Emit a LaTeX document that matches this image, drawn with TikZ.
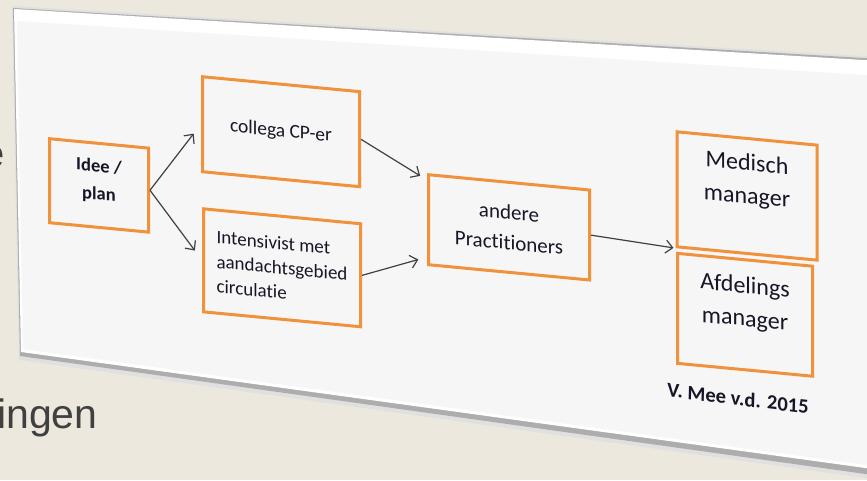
\documentclass[tikz,border=0pt]{standalone}
\usepackage{fontspec}
\setmainfont{Carlito}[Ligatures=NoCommon]
\newfontfamily\slidefont{Liberation Sans}
\usetikzlibrary{arrows.meta}
\definecolor{slidebg}{RGB}{236,232,222}
\definecolor{cardface}{RGB}{246,246,246}
\definecolor{boxorange}{RGB}{240,145,60}
\definecolor{ink}{RGB}{22,22,40}
\definecolor{slidetext}{RGB}{64,64,64}

\begin{document}
\begin{tikzpicture}[x=1pt,y=-1pt,>={Straight Barb[length=7pt,width=13pt]},
  flowbox/.style={draw=boxorange,line width=3pt,inner sep=0pt,text=ink,align=center},
  flowarrow/.style={->,line width=1.2pt,draw=black!75}]
\useasboundingbox (0,0) rectangle (867,480);
\fill[slidebg] (0,0) rectangle (867,480);
\node[anchor=base east,inner sep=0pt,text=slidetext,font=\slidefont\fontsize{40}{48}\selectfont] (wordtop) at (5,167) {e};
\node[anchor=base west,inner sep=0pt,text=slidetext,font=\slidefont\fontsize{41}{48}\selectfont] (wordbottom) at (-3,428) {ingen};
% the tilted card with its shadow
\fill[black!12] (12,6) -- (880,57) -- (880,480) -- (19,360) -- cycle;
\fill[black!32] (13,8) -- (880,59) -- (880,476) -- (20,356) -- cycle;
\fill[white] (14,9) -- (880,61) -- (880,470) -- (21,352) -- cycle;
\fill[cardface] (17,21) -- (880,76) -- (880,467) -- (23,349) -- cycle;
% flow boxes, slanted with the card
\begin{scope}[yslant=-0.095,transform shape]
\node[flowbox,minimum width=99pt,minimum height=84pt,text depth=12pt,font=\bfseries\fontsize{18.5}{28}\selectfont] (idee) at (99,176) {Idee /\\plan};
\node[flowbox,minimum width=157pt,minimum height=95pt,font=\fontsize{19.5}{24}\selectfont] (collega) at (281,105) {collega CP-er};
\node[flowbox,minimum width=157pt,minimum height=103pt,align=left,font=\fontsize{19}{24.5}\selectfont] (intens) at (282,241) {Intensivist met\\aandachtsgebied\\circulatie};
\node[flowbox,minimum width=161pt,minimum height=90pt,font=\fontsize{21}{30}\selectfont] (andere) at (509,179) {andere\\Practitioners};
\node[flowbox,minimum width=140pt,minimum height=115pt,text depth=35pt,font=\fontsize{24}{33}\selectfont] (medisch) at (747,125) {Medisch\\manager};
\node[flowbox,minimum width=135pt,minimum height=110pt,text depth=27pt,font=\fontsize{24}{33}\selectfont] (afdeling) at (745,244) {Afdelings\\manager};
\node[text=ink,rotate=-1.5,font=\bfseries\fontsize{20.5}{24}\selectfont] (credit) at (738,328) {V. Mee v.d. 2015};
\end{scope}
\draw[flowarrow,shorten >=12pt] (idee.east) -- (collega.west);
\draw[flowarrow,shorten >=12pt] (idee.east) -- (intens.west);
\draw[flowarrow,shorten >=8pt] (collega.east) -- ([yshift=-7pt]andere.north west);
\draw[flowarrow,shorten >=9pt] (intens.east) -- ([yshift=9pt]andere.south west);
\draw[flowarrow,shorten >=2pt] (andere.east) -- (medisch.south west);
\end{tikzpicture}
\end{document}
